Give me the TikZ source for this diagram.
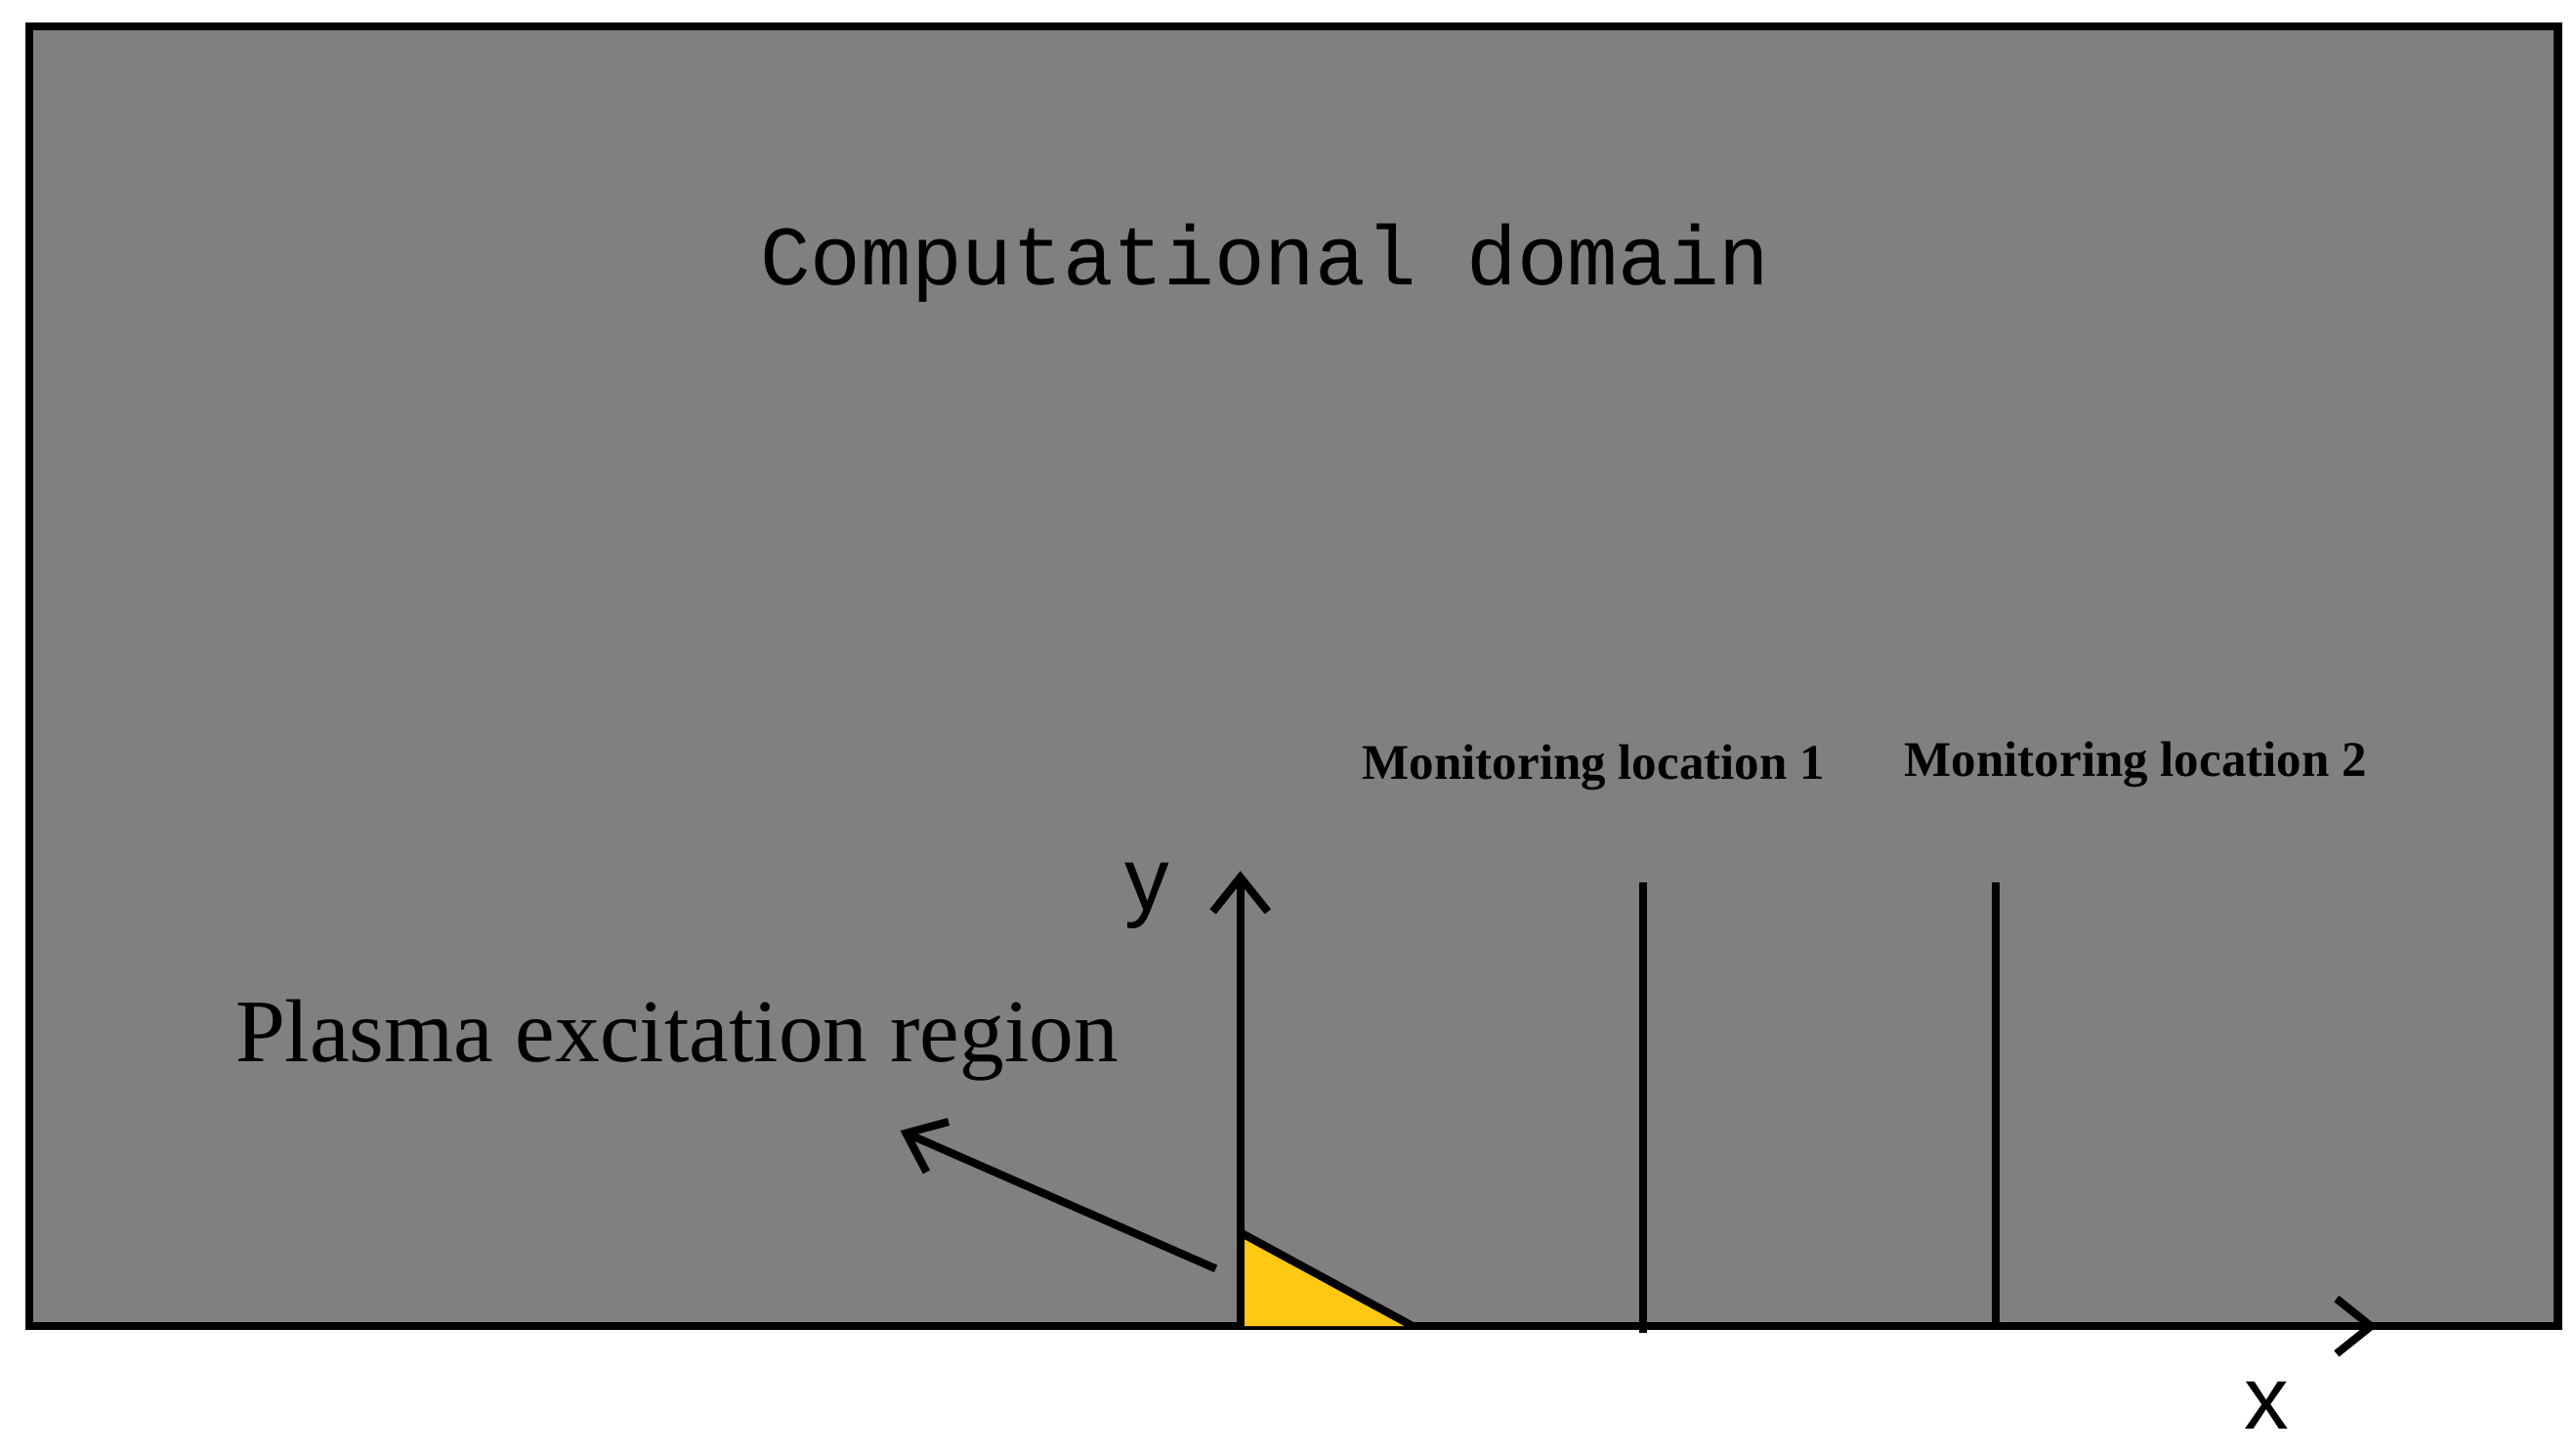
\documentclass[tikz,border=0pt]{standalone}
\usepackage{fontspec}
\setmainfont{Liberation Serif}
\newfontfamily\monofont{Liberation Mono}
\newfontfamily\sansfont{Liberation Sans}
\usetikzlibrary{arrows.meta}
\definecolor{domaingray}{RGB}{128,128,128}
\definecolor{plasmayellow}{RGB}{255,200,20}
\begin{document}
\begin{tikzpicture}[x=0.01682cm,y=-0.01682cm,
    line/.style={line width=2.3pt},
    axis/.style={line width=2.3pt,-{Straight Barb[length=10pt,width=16pt]}},
    probe/.style={font=\fontsize{14.5}{16}\selectfont\bfseries}]
  \useasboundingbox (0,0) rectangle (1568,885);
  \draw[line,fill=domaingray] (18,16) rectangle (1557,807);

  \node (title) at (770,160) {\monofont\fontsize{24.5}{28}\selectfont Computational domain};
  \node (plasma) at (412,633) {\fontsize{26}{30}\selectfont Plasma excitation region};
  \node[probe] (m1) at (970,467) {Monitoring location 1};
  \node[probe] (m2) at (1300,465) {Monitoring location 2};

  \fill[plasmayellow] (755,750) -- (755,807) -- (860,807) -- cycle;
  \draw[line] (755,750) -- (860,807);

  \coordinate (o) at (755,807);
  \coordinate (ytop) at (755,530);
  \draw[axis] (o) -- (ytop);
  \node (ylab) at (698,545) {\sansfont\fontsize{26}{30}\selectfont y};

  \coordinate (xs) at (1405,807);
  \coordinate (xe) at (1447,807);
  \draw[axis] (xs) -- (xe);
  \node (xlab) at (1380,855) {\sansfont\fontsize{26}{30}\selectfont x};

  \coordinate (p1a) at (1000,537); \coordinate (p1b) at (1000,811);
  \coordinate (p2a) at (1215,537); \coordinate (p2b) at (1215,807);
  \draw[line] (p1a) -- (p1b);
  \draw[line] (p2a) -- (p2b);

  \coordinate (pa) at (740,772);
  \coordinate (pb) at (548,688);
  \draw[axis] (pa) -- (pb);
\end{tikzpicture}
\end{document}
